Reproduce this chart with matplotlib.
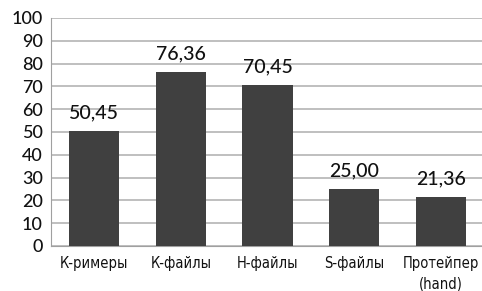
import matplotlib
matplotlib.use("Agg")
import matplotlib.pyplot as plt

categories = ["К-римеры", "К-файлы", "Н-файлы", "S-файлы", "Протейпер\n(hand)"]
values = [50.45, 76.36, 70.45, 25.00, 21.36]
value_labels = ["50,45", "76,36", "70,45", "25,00", "21,36"]
yticks = [0, 10, 20, 30, 40, 50, 60, 70, 80, 90, 100]

fig = plt.figure(figsize=(4.82, 2.91), dpi=100)
ax = fig.add_axes([51/482, 45/291, 433/482, 228/291])
x = list(range(len(categories)))
ax.bar(x, values, width=0.58, color="#404040", zorder=3)
ax.set_xlim(-0.5, 4.5)
ax.set_ylim(0, 100)
ax.set_yticks(yticks)
ax.set_yticklabels([str(t) for t in yticks], fontfamily="Lato", fontweight=500,
                   fontsize=13, color="#111111")
ax.set_xticks(x)
ax.set_xticklabels(categories, fontfamily="DejaVu Sans", fontstretch="condensed",
                   fontsize=10.5, color="#111111", linespacing=1.45)
ax.yaxis.grid(True, color="#b4b4b4", linewidth=1.2, zorder=0)
ax.set_axisbelow(True)
for s in ["top", "right"]:
    ax.spines[s].set_visible(False)
ax.spines["left"].set_color("#a0a0a0")
ax.spines["bottom"].set_color("#a0a0a0")
ax.tick_params(axis="both", length=0)
ax.tick_params(axis="y", pad=6)
ax.tick_params(axis="x", pad=7)
for xi, v, lab in zip(x, values, value_labels):
    ax.annotate(lab, (xi, v), xytext=(0, 7), textcoords="offset points",
                ha="center", va="bottom", fontfamily="Lato", fontweight=500,
                fontsize=14, color="#111111")
fig.savefig("out.png", dpi=100)
